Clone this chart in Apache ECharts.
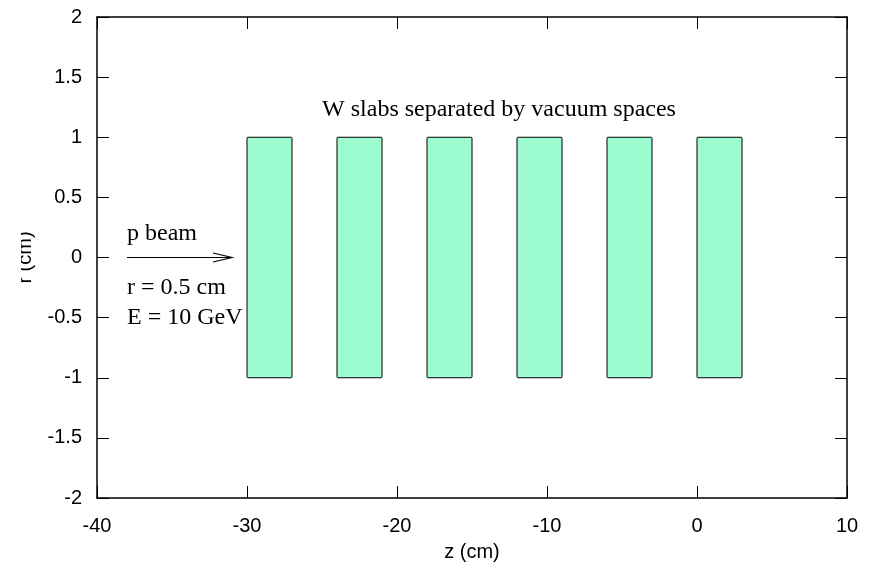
<!DOCTYPE html>
<html>
<head>
<meta charset="utf-8">
<script src="https://cdn.jsdelivr.net/npm/echarts@6/dist/echarts.min.js"></script>
<style>
html,body{margin:0;padding:0;background:#fff;}
#chart{width:875px;height:572px;}
</style>
</head>
<body>
<div id="chart"></div>
<script>
// ---- data ----
const slabStartZ = [-30, -24, -18, -12, -6, 0];
const slabEndZ   = [-27, -21, -15, -9, -3, 3];
const slabLowR   = [-1, -1, -1, -1, -1, -1];
const slabHighR  = [1, 1, 1, 1, 1, 1];
const beamArrowZ = [-38, -31];
const beamArrowR = [0, 0];
const xTicks = [-40, -30, -20, -10, 0, 10];
const yTicks = [-2, -1.5, -1, -0.5, 0, 0.5, 1, 1.5, 2];
const labelTexts = ['W slabs separated by vacuum spaces', 'p beam', 'r = 0.5 cm', 'E = 10 GeV'];
const labelZ = [-13.2, -38, -38, -38];
const labelR = [1.23, 0.2, -0.25, -0.5];

const slabData = slabStartZ.map((z, i) => [z, slabEndZ[i], slabLowR[i], slabHighR[i]]);
const arrowData = [[beamArrowZ[0], beamArrowR[0], beamArrowZ[1], beamArrowR[1]]];

const SANS = '"Liberation Sans", Arial, Helvetica, sans-serif';
const SERIF = '"Liberation Serif", "Times New Roman", serif';

const chart = echarts.init(document.getElementById('chart'));

const axisCommon = {
  type: 'value',
  splitLine: { show: false },
  axisLine: { show: true, onZero: false, lineStyle: { color: '#000', width: 1.5 } },
  axisTick: { show: true, inside: true, length: 12, lineStyle: { color: '#000', width: 1 } }
};

const option = {
  animation: false,
  backgroundColor: '#fff',
  grid: { left: 97, right: 28, top: 17, bottom: 74 },
  xAxis: [
    Object.assign({}, axisCommon, {
      position: 'bottom', min: xTicks[0], max: xTicks[xTicks.length - 1], interval: 10,
      name: 'z (cm)', nameLocation: 'middle', nameGap: 44,
      nameTextStyle: { fontFamily: SANS, fontSize: 20, color: '#000' },
      axisLabel: { fontFamily: SANS, fontSize: 20, color: '#000', margin: 18 }
    }),
    Object.assign({}, axisCommon, {
      position: 'top', min: xTicks[0], max: xTicks[xTicks.length - 1], interval: 10,
      axisLabel: { show: false }
    })
  ],
  yAxis: [
    Object.assign({}, axisCommon, {
      position: 'left', min: yTicks[0], max: yTicks[yTicks.length - 1], interval: 0.5,
      name: 'r (cm)', nameLocation: 'middle', nameGap: 62, nameRotate: 90,
      nameTextStyle: { fontFamily: SANS, fontSize: 20, color: '#000' },
      axisLabel: { fontFamily: SANS, fontSize: 20, color: '#000', margin: 15 }
    }),
    Object.assign({}, axisCommon, {
      position: 'right', min: yTicks[0], max: yTicks[yTicks.length - 1], interval: 0.5,
      axisLabel: { show: false }
    })
  ],
  series: [
    {
      type: 'custom',
      xAxisIndex: 0, yAxisIndex: 0,
      data: slabData,
      renderItem: function (params, api) {
        const p1 = api.coord([api.value(0), api.value(3)]);
        const p2 = api.coord([api.value(1), api.value(2)]);
        return {
          type: 'rect',
          shape: { x: p1[0], y: p1[1], width: p2[0] - p1[0], height: p2[1] - p1[1], r: 1 },
          style: { fill: '#9cfcd0', stroke: '#000', lineWidth: 1 }
        };
      },
      z: 2
    },
    {
      type: 'custom',
      xAxisIndex: 0, yAxisIndex: 0,
      data: arrowData,
      renderItem: function (params, api) {
        const a = api.coord([api.value(0), api.value(1)]);
        const b = api.coord([api.value(2), api.value(3)]);
        const hl = 19, hw = 4.5;
        return {
          type: 'group',
          children: [
            { type: 'line', shape: { x1: a[0], y1: a[1], x2: b[0], y2: b[1] }, style: { stroke: '#000', lineWidth: 1.2 } },
            { type: 'polyline', shape: { points: [[b[0] - hl, b[1] - hw], [b[0], b[1]], [b[0] - hl, b[1] + hw]] }, style: { stroke: '#000', lineWidth: 1.2, fill: null } }
          ]
        };
      },
      z: 3
    }
  ]
};
chart.setOption(option);

// text labels placed at data coordinates
const graphics = labelTexts.map((t, i) => {
  const p = chart.convertToPixel({ xAxisIndex: 0, yAxisIndex: 0 }, [labelZ[i], labelR[i]]);
  return {
    type: 'text', x: p[0], y: p[1], z: 10,
    style: {
      text: t, fontFamily: SERIF, fontSize: 24, fill: '#000',
      textAlign: i === 0 ? 'center' : 'left', textVerticalAlign: 'middle'
    }
  };
});
// white mask that clips the left edge of the y-axis title, as in the reference
graphics.push({ type: 'rect', z: 100, shape: { x: 0, y: 150, width: 21, height: 220 }, style: { fill: '#fff' } });
chart.setOption({ graphic: graphics });
</script>
</body>
</html>
